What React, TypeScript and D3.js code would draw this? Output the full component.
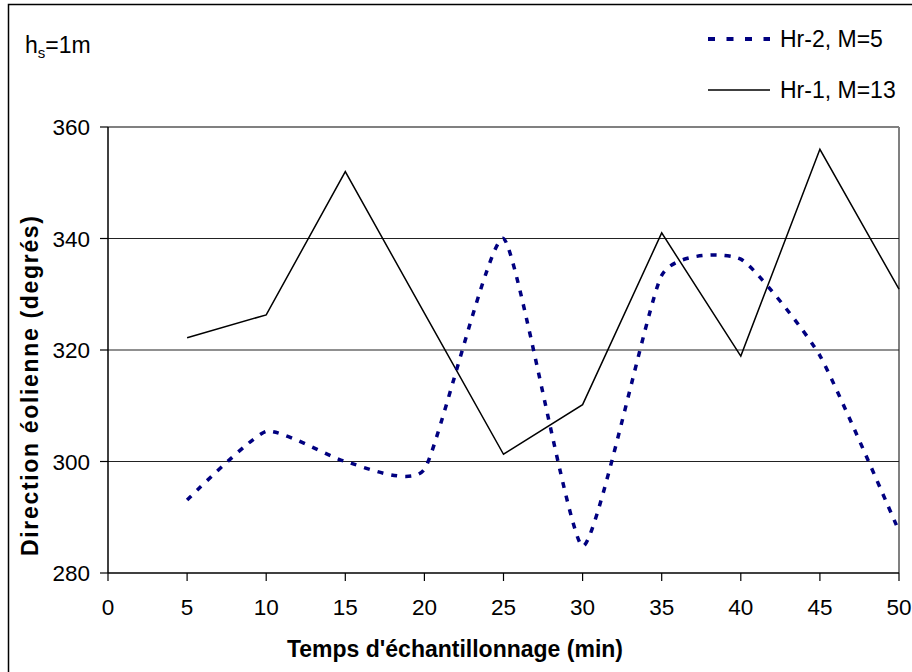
import React from "react";
import * as d3 from "d3";

const times = [5, 10, 15, 20, 25, 30, 35, 40, 45, 50];
const hr2 = [293.1, 305.4, 300.0, 298.6, 340.0, 284.8, 333.4, 336.3, 319.0, 287.5];
const hr1 = [322.2, 326.3, 352.0, 326.6, 301.3, 310.2, 341.0, 318.9, 356.0, 330.9];
const xTicks = [0, 5, 10, 15, 20, 25, 30, 35, 40, 45, 50];
const yTicks = [280, 300, 320, 340, 360];
const gridValues = [300, 320, 340];
const seriesNames = ["Hr-2, M=5", "Hr-1, M=13"];

const W = 912;
const H = 672;
const FONT = "'Liberation Sans', Arial, Helvetica, sans-serif";

export default function App() {
  const x = d3.scaleLinear().domain([0, 50]).range([108, 899]);
  const y = d3.scaleLinear().domain([280, 360]).range([573, 127]);

  const solid = d3
    .line<number>()
    .x((_, i) => x(times[i]))
    .y((d) => y(d));
  const smooth = d3
    .line<number>()
    .x((_, i) => x(times[i]))
    .y((d) => y(d))
    .curve(d3.curveCardinal.tension(0.5));

  const [x0, x1] = x.range();
  const yTop = y(360);
  const yBot = y(280);

  return (
    <svg
      width={W}
      height={H}
      style={{ position: "absolute", left: 0, top: 0, background: "#fff" }}
      fontFamily={FONT}
    >
      <rect x={0} y={0} width={W} height={H} fill="#fff" />
      {/* outer frame */}
      <rect x={8.5} y={4.5} width={910} height={670} fill="none" stroke="#000" strokeWidth={1.5} />

      {/* plot frame (gray top/right) */}
      <line x1={x0} x2={x1} y1={yTop} y2={yTop} stroke="#808080" strokeWidth={2} />
      <line x1={x1} x2={x1} y1={yTop} y2={yBot} stroke="#808080" strokeWidth={2} />

      {/* gridlines */}
      {gridValues.map((v) => (
        <line key={v} x1={x0} x2={x1} y1={y(v)} y2={y(v)} stroke="#222" strokeWidth={1.2} />
      ))}

      {/* axes */}
      <line x1={x0} x2={x0} y1={yTop} y2={yBot} stroke="#000" strokeWidth={1.5} />
      <line x1={x0} x2={x1} y1={yBot} y2={yBot} stroke="#000" strokeWidth={1.5} />

      {yTicks.map((v) => (
        <g key={v}>
          <line x1={x0 - 8} x2={x0} y1={y(v)} y2={y(v)} stroke="#000" strokeWidth={1.2} />
          <text x={90} y={y(v) + 8} textAnchor="end" fontSize={22.5} fill="#000">
            {v}
          </text>
        </g>
      ))}
      {xTicks.map((v) => (
        <g key={v}>
          <line x1={x(v)} x2={x(v)} y1={yBot} y2={yBot + 8} stroke="#000" strokeWidth={1.2} />
          <text x={x(v)} y={615} textAnchor="middle" fontSize={22.5} fill="#000">
            {v}
          </text>
        </g>
      ))}

      {/* axis titles */}
      <text x={455} y={657} textAnchor="middle" fontSize={23} fontWeight="bold" fill="#000">
        Temps d'échantillonnage (min)
      </text>
      <text
        transform="translate(38,386) rotate(-90)"
        textAnchor="middle"
        fontSize={23}
        fontWeight="bold"
        fill="#000"
        textLength={340}
        lengthAdjust="spacing"
      >
        Direction éolienne (degrés)
      </text>

      {/* series */}
      <path d={solid(hr1) || ""} fill="none" stroke="#000" strokeWidth={1.5} />
      <path
        d={smooth(hr2) || ""}
        fill="none"
        stroke="#000080"
        strokeWidth={3.5}
        strokeDasharray="6,8"
      />

      {/* annotation */}
      <text x={25} y={53} fontSize={23} fill="#000">
        h<tspan fontSize={15} dy={5}>s</tspan>
        <tspan dy={-5}>=1m</tspan>
      </text>

      {/* legend */}
      <line x1={708} x2={770} y1={39} y2={39} stroke="#000080" strokeWidth={4} strokeDasharray="7,11.5" />
      <text x={780} y={47} fontSize={23} fill="#000">
        {seriesNames[0]}
      </text>
      <line x1={708} x2={770} y1={90} y2={90} stroke="#000" strokeWidth={1.5} />
      <text x={780} y={98} fontSize={23} fill="#000">
        {seriesNames[1]}
      </text>
    </svg>
  );
}
